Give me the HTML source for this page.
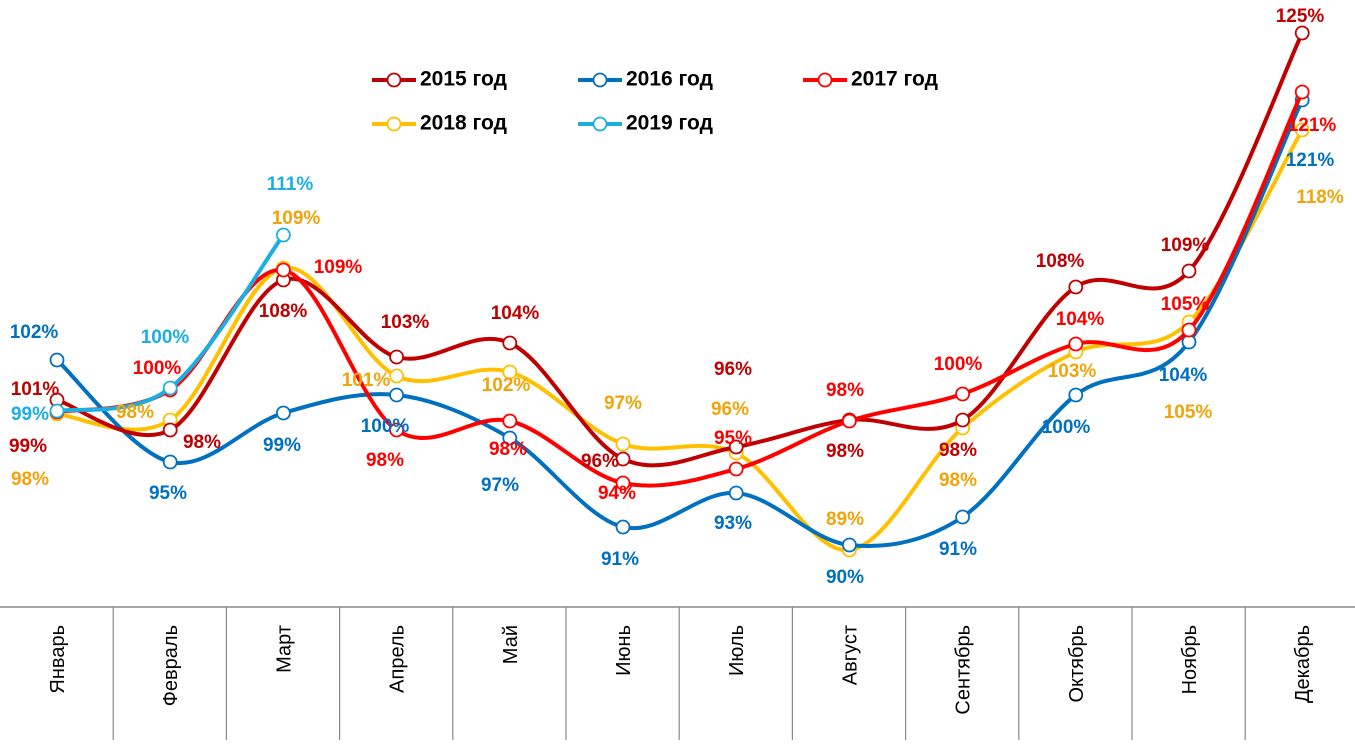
<!DOCTYPE html>
<html><head><meta charset="utf-8">
<style>
html,body{margin:0;padding:0;background:#fff;}
svg{display:block;font-family:"Liberation Sans",Arial,sans-serif;}
.l{font-size:19px;font-weight:bold;text-anchor:middle;dominant-baseline:middle;}
.c{font-size:20px;fill:#000;}
.lg{font-size:21px;font-weight:bold;fill:#000;dominant-baseline:middle;}
</style></head><body>
<svg id="s" width="1355" height="756" viewBox="0 0 1355 756" xmlns="http://www.w3.org/2000/svg">
<line x1="0" y1="607" x2="1355" y2="607" stroke="#888" stroke-width="1.5"/>
<g id="ticks" stroke="#888" stroke-width="1.2"></g>
<g id="cats"></g>
<g id="series"></g>
<g id="labels"></g>
<g id="legend"></g>
</svg>
<script>
var NS="http://www.w3.org/2000/svg";
function el(t,a,p,txt){var e=document.createElementNS(NS,t);for(var k in a)e.setAttribute(k,a[k]);if(txt!==undefined)e.textContent=txt;p.appendChild(e);return e;}
var xs=[];for(var i=0;i<12;i++)xs.push(57+i*113.2);
var ticks=document.getElementById('ticks');
for(var i=1;i<12;i++){var x=i*113.2;el('line',{x1:x,y1:607,x2:x,y2:740},ticks);}
var cats=["Январь","Февраль","Март","Апрель","Май","Июнь","Июль","Август","Сентябрь","Октябрь","Ноябрь","Декабрь"];
var cg=document.getElementById('cats');
cats.forEach(function(c,i){el('text',{class:'c',transform:'translate('+(xs[i]+7)+',625) rotate(-90)','text-anchor':'end'},cg,c);});
var S=[
{c:"#FFC000",y:[414,420,268,376,372,444,453,550,428,352,322,130]},
{c:"#0070C0",y:[360,462,413,395,438,527,493,545,517,395,342,100]},
{c:"#C00000",y:[400,430,280,357,343,459,447,420,420,287,271,33]},
{c:"#FF0000",y:[412,390,270,430,421,483,469,421,394,344,330,92]},
{c:"#1AAFE0",y:[411,388,235]}
];
var sg=document.getElementById('series');
function path(ys){var p=ys.map(function(y,i){return [xs[i],y];});var d="M"+p[0][0]+","+p[0][1];
for(var i=0;i<p.length-1;i++){var p0=p[i-1]||p[i],p1=p[i],p2=p[i+1],p3=p[i+2]||p2;
var c1=[p1[0]+(p2[0]-p0[0])/6,p1[1]+(p2[1]-p0[1])/6],c2=[p2[0]-(p3[0]-p1[0])/6,p2[1]-(p3[1]-p1[1])/6];
d+=" C"+c1+" "+c2+" "+p2;}return d;}
S.forEach(function(s){el('path',{d:path(s.y),fill:'none',stroke:s.c,'stroke-width':4,'stroke-linejoin':'round'},sg);
s.y.forEach(function(y,i){el('circle',{cx:xs[i],cy:y,r:6.5,fill:'#fff',stroke:s.c,'stroke-width':1.8},sg);});});
var DR="#C00000",R="#FF0000",B="#0070C0",Y="#F0A30A",C="#1AAFE0";
var L=[
[DR,"101%",35,390],[DR,"99%",28,447],[DR,"98%",202,443],[DR,"108%",283,312],[DR,"103%",405,323],[DR,"104%",515,314],[DR,"96%",600,462],[DR,"96%",733,370],[DR,"98%",845,452],[DR,"98%",958,451],[DR,"108%",1060,262],[DR,"109%",1185,246],[DR,"125%",1300,17],
[R,"100%",157,369],[R,"109%",338,268],[R,"98%",385,461],[R,"98%",508,450],[R,"94%",617,494],[R,"95%",733,439],[R,"98%",845,391],[R,"100%",958,365],[R,"104%",1080,320],[R,"105%",1185,305],[R,"121%",1312,126],
[B,"102%",34,333],[B,"95%",168,494],[B,"99%",282,446],[B,"100%",385,427],[B,"97%",500,486],[B,"91%",620,560],[B,"93%",733,524],[B,"90%",845,578],[B,"91%",958,550],[B,"100%",1066,428],[B,"104%",1183,376],[B,"121%",1310,161],
[Y,"98%",30,480],[Y,"98%",135,413],[Y,"109%",296,219],[Y,"101%",366,381],[Y,"102%",506,386],[Y,"97%",623,404],[Y,"96%",730,410],[Y,"89%",845,520],[Y,"98%",958,481],[Y,"103%",1072,372],[Y,"105%",1188,413],[Y,"118%",1320,198],
[C,"99%",30,415],[C,"100%",165,338],[C,"111%",290,185]
];
var lg=document.getElementById('labels');
L.forEach(function(a){el('text',{class:'l',x:a[2],y:a[3],fill:a[0]},lg,a[1]);});
var LG=[["#C00000","2015 год",372,80],["#0070C0","2016 год",578,80],["#FF0000","2017 год",803,80],["#FFC000","2018 год",372,124],["#1AAFE0","2019 год",578,124]];
var g=document.getElementById('legend');
LG.forEach(function(a){el('line',{x1:a[2],y1:a[3],x2:a[2]+44,y2:a[3],stroke:a[0],'stroke-width':4},g);
el('circle',{cx:a[2]+22,cy:a[3],r:6.5,fill:'#fff',stroke:a[0],'stroke-width':1.8},g);
el('text',{class:'lg',x:a[2]+48,y:a[3]},g,a[1]);});
</script>
</body></html>
